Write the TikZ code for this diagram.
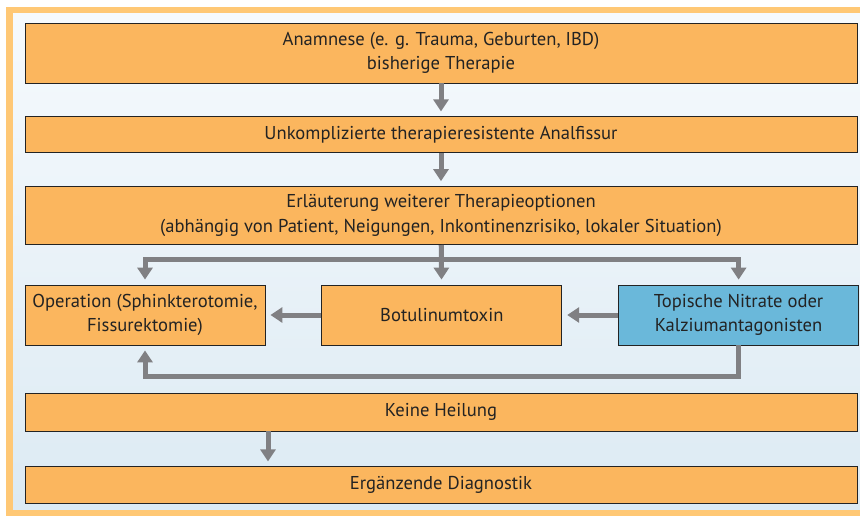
\documentclass[tikz,border=0pt]{standalone}
\usepackage{fontspec}
\setmainfont{PT Sans}
\usepackage{tikz}
\usetikzlibrary{arrows.meta,positioning,backgrounds}
\definecolor{boxorange}{RGB}{251,182,94}
\definecolor{boxblue}{RGB}{106,184,218}
\definecolor{framecol}{RGB}{255,200,117}
\definecolor{arrowgray}{RGB}{128,128,131}
\definecolor{bgtop}{RGB}{246,250,253}
\definecolor{bgbottom}{RGB}{220,234,243}
\definecolor{inkdark}{RGB}{35,35,35}

\begin{document}
\begin{tikzpicture}[x=1pt,y=-1pt,
  node distance=33pt and 56pt,
  box/.style={draw=inkdark,line width=0.8pt,fill=boxorange,align=center,text=inkdark,inner sep=0pt,font=\fontsize{18.6}{24.5}\selectfont},
  wide/.style={box,minimum width=832pt},
  small/.style={box,minimum width=240pt,minimum height=60pt},
  arr/.style={-{Triangle[width=15pt,length=12pt]},line width=5pt,arrowgray,shorten >=5pt}]
  \useasboundingbox (0,0) rectangle (860,516);
  \fill[framecol] (6,7) rectangle (870,516);
  \shade[top color=bgtop,bottom color=bgbottom] (13,14) rectangle (870,509);
  \node[wide,minimum height=60pt] (anam) at (441,53) {Anamnese (e. g. Trauma, Geburten, IBD)\\bisherige Therapie};
  \node[wide,minimum height=36pt,below=of anam] (unk) {Unkomplizierte therapieresistente Analfissur};
  \node[wide,minimum height=58pt,below=of unk] (erl) {Erläuterung weiterer Therapieoptionen\\(abhängig von Patient, Neigungen, Inkontinenzrisiko, lokaler Situation)};
  \node[small] (op) at (145,315) {Operation (Sphinkterotomie,\\Fissurektomie)};
  \node[small,right=of op] (botu) {Botulinumtoxin};
  \node[small,right=of botu,fill=boxblue] (topi) {Topische Nitrate oder\\Kalziumantagonisten};
  \node[wide,minimum height=38pt] (keine) at (441,412) {Keine Heilung};
  \node[wide,minimum height=37pt,below=35pt of keine] (ergd) {Ergänzende Diagnostik};
  \draw[arr] (anam) -- (unk);
  \draw[arr] (unk) -- (erl);
  \draw[arr] (erl) -- (botu);
  \draw[arr] (erl.south) -- ++(0,14) -| (op);
  \draw[arr] (erl.south) -- ++(0,14) -| (topi);
  \draw[arr] (botu) -- (op);
  \draw[arr] (topi) -- (botu);
  \draw[arr] (topi) -- ++(0,61) -| (op);
  \draw[arr] ([xshift=-173pt]keine.south) -- ([xshift=-173pt]ergd.north);
\end{tikzpicture}
\end{document}
